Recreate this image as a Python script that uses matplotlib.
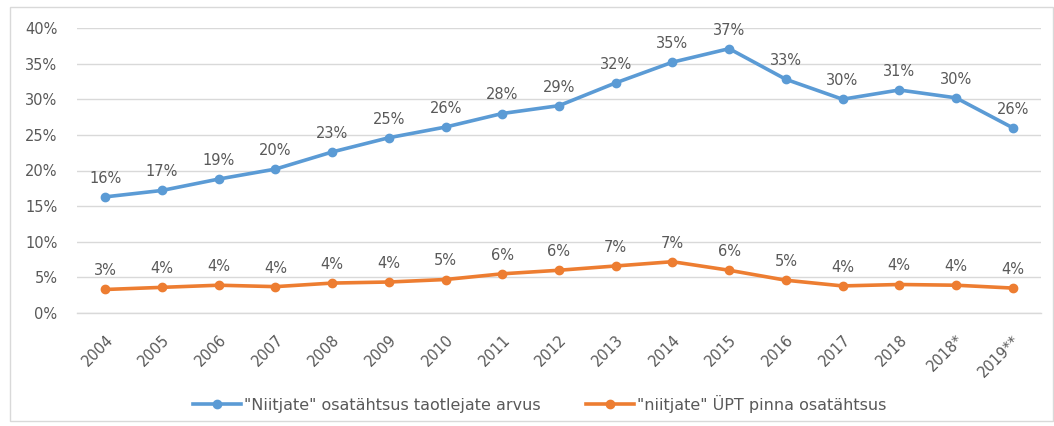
import matplotlib.pyplot as plt
from matplotlib.patches import Rectangle

years = ["2004", "2005", "2006", "2007", "2008", "2009", "2010", "2011", "2012",
         "2013", "2014", "2015", "2016", "2017", "2018", "2018*", "2019**"]
applicants = [16.3, 17.2, 18.8, 20.2, 22.6, 24.6, 26.1, 28.0, 29.1,
              32.3, 35.2, 37.1, 32.8, 30.0, 31.3, 30.2, 26.0]
area = [3.3, 3.6, 3.9, 3.7, 4.2, 4.35, 4.7, 5.5, 6.0,
        6.6, 7.2, 6.0, 4.6, 3.8, 4.0, 3.9, 3.5]
yticks = [0, 5, 10, 15, 20, 25, 30, 35, 40]

BLUE = "#5B9BD5"
ORANGE = "#ED7D31"
TXT = "#595959"
GRID = "#D9D9D9"

plt.rcParams['font.family'] = ['DejaVu Sans']

fig = plt.figure(figsize=(10.54, 4.26), dpi=100)
ax = fig.add_axes([77 / 1054, 1 - 313 / 426, (1041 - 77) / 1054, (313 - 28) / 426])

# outer chart border
fig.patches.append(Rectangle((10 / 1054, 5 / 426), 1 - 11 / 1054, 414 / 426,
                             transform=fig.transFigure, fill=False,
                             edgecolor=GRID, linewidth=1))

x = list(range(len(years)))
ax.plot(x, applicants, color=BLUE, lw=2.6, marker='o', ms=6,
        label='"Niitjate" osatähtsus taotlejate arvus', zorder=3)
ax.plot(x, area, color=ORANGE, lw=2.6, marker='o', ms=6,
        label='"niitjate" ÜPT pinna osatähtsus', zorder=3)

for series in (applicants, area):
    for xi, v in zip(x, series):
        ax.annotate(f"{int(v + 0.5)}%", (xi, v), xytext=(0, 8), textcoords='offset points',
                    ha='center', va='bottom', fontsize=10.5, color=TXT)

ax.set_xlim(-0.5, len(years) - 0.5)
ax.set_ylim(0, 40)
ax.set_yticks(yticks)
ax.set_yticklabels([f"{t}%" for t in yticks])
ax.set_xticks(x)
ax.set_xticklabels(years, rotation=45, ha='right', rotation_mode='anchor')
ax.tick_params(axis='both', length=0, labelsize=10.5, labelcolor=TXT)
ax.tick_params(axis='x', pad=14)
ax.tick_params(axis='y', pad=14)
ax.grid(axis='y', color=GRID, lw=1)
ax.axhline(0, color=GRID, lw=1, clip_on=False, zorder=0)
ax.set_axisbelow(True)
for s in ax.spines.values():
    s.set_visible(False)

fig.legend(loc='center', bbox_to_anchor=(0.512, 0.052), ncol=2, frameon=False,
           fontsize=11.5, labelcolor=TXT, handlelength=3.0, columnspacing=2.8,
           handletextpad=0.2)

fig.savefig("out.png", dpi=100)
